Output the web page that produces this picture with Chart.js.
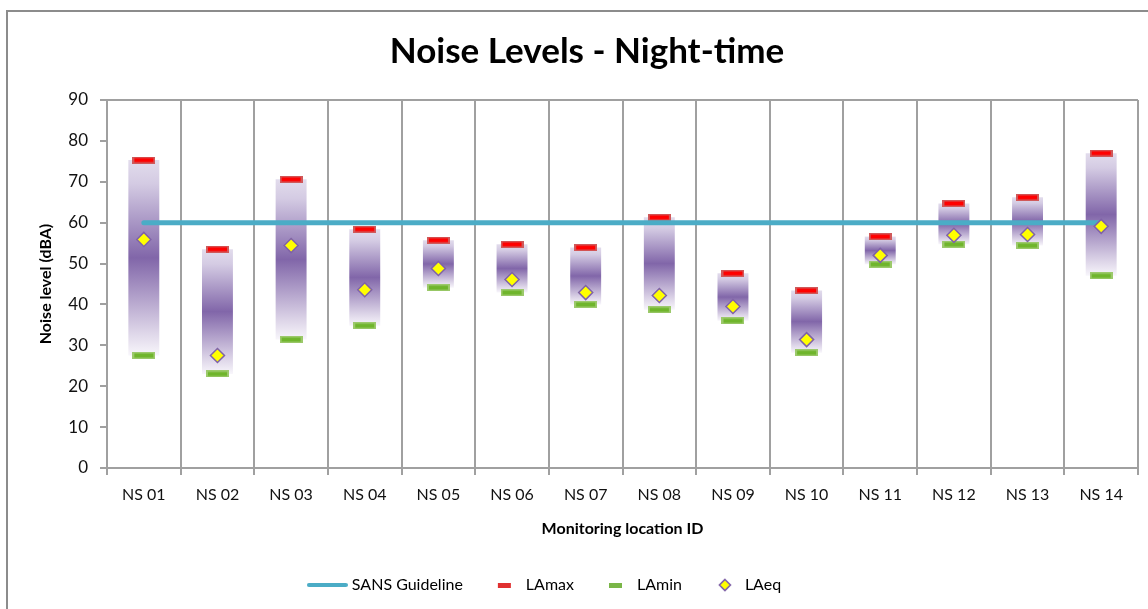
<!DOCTYPE html>
<html><head><meta charset="utf-8">
<script src="https://cdn.jsdelivr.net/npm/chart.js@4.4.1/dist/chart.umd.min.js"></script>
<style>html,body{margin:0;padding:0;background:#fff;overflow:hidden;}</style>
</head><body>
<canvas id="c" width="1148" height="609"></canvas>
<script>
const categories = ['NS 01','NS 02','NS 03','NS 04','NS 05','NS 06','NS 07','NS 08','NS 09','NS 10','NS 11','NS 12','NS 13','NS 14'];
const laMax = [75.3, 53.5, 70.6, 58.4, 55.7, 54.7, 53.9, 61.3, 47.6, 43.4, 56.6, 64.7, 66.2, 77.0];
const laMin = [27.5, 23.0, 31.4, 34.8, 44.1, 42.9, 40.0, 38.7, 36.0, 28.2, 49.8, 54.7, 54.4, 47.0];
const laEq  = [55.9, 27.5, 54.4, 43.6, 48.8, 46.1, 42.9, 42.2, 39.5, 31.4, 52.0, 56.9, 57.1, 59.1];
const sansGuideline = [60, 60, 60, 60, 60, 60, 60, 60, 60, 60, 60, 60, 60, 60];
const yTicks = [0, 10, 20, 30, 40, 50, 60, 70, 80, 90];

const ranges = categories.map((c, i) => [laMin[i], laMax[i]]);

function dashImg(w, h, fill, edge, totalW, offX) {
  const cv = document.createElement('canvas');
  cv.width = totalW || w; cv.height = h;
  const g = cv.getContext('2d');
  const x0 = offX || 0;
  g.fillStyle = edge; g.fillRect(x0, 0, w, h);
  g.fillStyle = fill; g.fillRect(x0 + 2, 1.5, w - 4, h - 3);
  return cv;
}
const redMark = dashImg(23, 7, '#ff0000', '#d0595a');
const greenMark = dashImg(23, 7, '#6fb52c', '#9cc96b');

const BOXW = 33;
function lineLegendImg() {
  const cv = document.createElement('canvas');
  cv.width = 41; cv.height = 6;
  const g = cv.getContext('2d');
  g.strokeStyle = '#4bacc6'; g.lineWidth = 4; g.lineCap = 'round';
  g.beginPath(); g.moveTo(2, 3); g.lineTo(39, 3); g.stroke();
  return cv;
}
function diamondLegendImg() {
  const cv = document.createElement('canvas');
  cv.width = BOXW; cv.height = 14;
  const g = cv.getContext('2d');
  const cx = 21, cy = 7, r = 5.5;
  g.beginPath(); g.moveTo(cx, cy - r); g.lineTo(cx + r, cy); g.lineTo(cx, cy + r); g.lineTo(cx - r, cy); g.closePath();
  g.fillStyle = '#ffff00'; g.fill(); g.strokeStyle = '#7f62a8'; g.lineWidth = 1.6; g.stroke();
  return cv;
}
const legendImgs = [
  lineLegendImg(),
  dashImg(13, 5, '#e03030', '#e03030', BOXW, 13),
  dashImg(13, 5, '#7ab648', '#7ab648', BOXW, 13),
  diamondLegendImg()
];

function barGradient(ctx) {
  const chart = ctx.chart;
  const y = chart.scales.y;
  if (!y || !ctx.raw) return '#8a71b0';
  const top = y.getPixelForValue(ctx.raw[1]);
  const bot = y.getPixelForValue(ctx.raw[0]);
  if (!isFinite(top) || !isFinite(bot) || bot - top < 1) return '#8a71b0';
  const g = chart.ctx.createLinearGradient(0, top, 0, bot);
  g.addColorStop(0, '#e2dcec');
  g.addColorStop(0.12, '#d4cbe3');
  g.addColorStop(0.5, '#8166a9');
  g.addColorStop(0.88, '#ddd5e8');
  g.addColorStop(1, '#f8f6fb');
  return g;
}

const framePlugin = {
  id: 'frame',
  afterLayout(chart) {
    if (chart.legend) { chart.legend.left -= 41; chart.legend.right -= 41; }
  },
  beforeDraw(chart) {
    const c = chart.ctx;
    c.save();
    c.fillStyle = '#fff'; c.fillRect(0, 0, chart.width, chart.height);
    c.strokeStyle = '#8c8c8c'; c.lineWidth = 2;
    c.strokeRect(7, 11, chart.width + 20, chart.height + 20);
    c.restore();
  },
  beforeDatasetsDraw(chart) {
    const a = chart.chartArea, c = chart.ctx;
    c.save();
    c.strokeStyle = '#a0a0a0'; c.lineWidth = 2;
    c.beginPath(); c.moveTo(a.left, a.top); c.lineTo(a.right, a.top); c.stroke();
    c.restore();
  }
};

const FONT = 'Lato, "Open Sans", sans-serif';

new Chart(document.getElementById('c'), {
  type: 'bar',
  plugins: [framePlugin],
  data: {
    labels: categories,
    datasets: [
      { type: 'line', label: 'SANS Guideline', data: sansGuideline, borderColor: '#4bacc6', backgroundColor: '#4bacc6', borderWidth: 5, pointRadius: 0, order: 1, borderCapStyle: 'round' },
      { type: 'line', label: 'LAmax', data: laMax, showLine: false, pointStyle: redMark, pointRadius: 6, order: 2 },
      { type: 'line', label: 'LAmin', data: laMin, showLine: false, pointStyle: greenMark, pointRadius: 6, order: 2 },
      { type: 'line', label: 'LAeq', data: laEq, showLine: false, pointStyle: 'rectRot', pointRadius: 7, backgroundColor: '#ffff00', borderColor: '#7f62a8', borderWidth: 1.5, order: 0 },
      { type: 'bar', label: 'range', data: ranges, backgroundColor: barGradient, barPercentage: 0.42, categoryPercentage: 1, borderWidth: 0, order: 5 }
    ]
  },
  options: {
    responsive: false,
    animation: false,
    layout: { padding: { left: 36, right: 10, top: 0, bottom: 6 } },
    plugins: {
      tooltip: { enabled: false },
      title: {
        display: true, text: 'Noise Levels - Night-time', color: '#000',
        font: { family: FONT, size: 35, weight: 'bold' }, padding: { top: 31, bottom: 27 }
      },
      legend: {
        position: 'bottom',
        labels: {
          usePointStyle: true, pointStyleWidth: BOXW, padding: 22, color: '#000',
          font: { family: FONT, size: 16 },
          filter: (item) => item.datasetIndex !== 4,
          sort: (a, b) => a.datasetIndex - b.datasetIndex,
          generateLabels(chart) {
            const items = Chart.defaults.plugins.legend.labels.generateLabels(chart);
            items.forEach(it => { if (it.datasetIndex < 4) it.pointStyle = legendImgs[it.datasetIndex]; });
            return items;
          }
        }
      }
    },
    scales: {
      x: {
        offset: true,
        grid: { offset: true, color: '#a0a0a0', lineWidth: 2, tickLength: 7, drawOnChartArea: true },
        border: { color: '#a0a0a0', width: 2 },
        ticks: { color: '#111', font: { family: FONT, size: 16 }, padding: 10 },
        title: { display: true, text: 'Monitoring location ID', color: '#000', font: { family: FONT, size: 16, weight: 'bold' }, padding: { top: 6, bottom: 17 } },
        afterFit(s) { s.height = 87; }
      },
      y: {
        min: 0, max: 90,
        afterBuildTicks(s) { s.ticks = yTicks.map(v => ({ value: v })); },
        grid: { drawOnChartArea: false, color: '#a0a0a0', lineWidth: 2, tickLength: 7 },
        border: { color: '#a0a0a0', width: 2 },
        ticks: { color: '#111', font: { family: FONT, size: 17 }, padding: 12 },
        title: { display: true, text: 'Noise level (dBA)', color: '#000', font: { family: FONT, size: 16, weight: 'bold' }, padding: { top: 0, bottom: 4 } },
        afterFit(s) { s.width = 71; }
      }
    }
  }
});
</script>
</body></html>
